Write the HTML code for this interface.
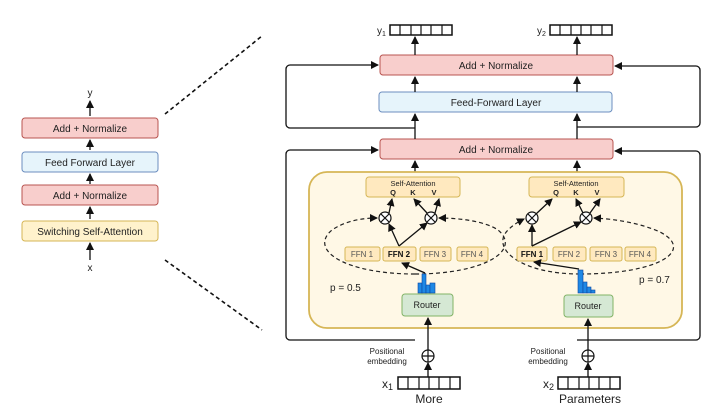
<!DOCTYPE html>
<html><head><meta charset="utf-8"><style>
body{margin:0;background:#fff}
svg{display:block;font-family:"Liberation Sans",sans-serif}
</style></head><body>
<svg width="720" height="415" viewBox="0 0 720 415" xmlns="http://www.w3.org/2000/svg">
<defs>
<marker id="a" markerWidth="8" markerHeight="8" refX="7" refY="4" orient="auto" markerUnits="userSpaceOnUse"><path d="M0,0 L8,4 L0,8 z" fill="#111"/></marker>
</defs>
<g stroke="#111" stroke-width="1.3" fill="none">
<line x1="90" y1="116" x2="90" y2="101" marker-end="url(#a)"/>
<line x1="90" y1="150" x2="90" y2="140" marker-end="url(#a)"/>
<line x1="90" y1="184" x2="90" y2="174" marker-end="url(#a)"/>
<line x1="90" y1="219" x2="90" y2="207" marker-end="url(#a)"/>
<line x1="90" y1="260" x2="90" y2="243" marker-end="url(#a)"/>
<line x1="165" y1="114" x2="262" y2="36" stroke-dasharray="4,3" stroke-width="1.6"/>
<line x1="165" y1="260" x2="262" y2="330" stroke-dasharray="4,3" stroke-width="1.6"/>
<path d="M415,128 H290 a4,4 0 0 1 -4,-4 V69 a4,4 0 0 1 4,-4 H378" marker-end="url(#a)"/>
<path d="M577,127 H696 a4,4 0 0 0 4,-4 V70 a4,4 0 0 0 -4,-4 H615" marker-end="url(#a)"/>
<path d="M415,340 H290 a4,4 0 0 1 -4,-4 V154 a4,4 0 0 1 4,-4 H378" marker-end="url(#a)"/>
<path d="M577,340 H696 a4,4 0 0 0 4,-4 V155 a4,4 0 0 0 -4,-4 H615" marker-end="url(#a)"/>
</g>
<g font-size="10" text-anchor="middle" fill="#222">
<rect x="22" y="118" width="136" height="20" rx="3" fill="#f8cecc" stroke="#b85450"/>
<text x="90" y="132">Add + Normalize</text>
<rect x="22" y="152" width="136" height="20" rx="3" fill="#e6f4fb" stroke="#6c8ebf"/>
<text x="90" y="166">Feed Forward Layer</text>
<rect x="22" y="185" width="136" height="20" rx="3" fill="#f8cecc" stroke="#b85450"/>
<text x="90" y="199">Add + Normalize</text>
<rect x="22" y="221" width="136" height="20" rx="3" fill="#fff2cc" stroke="#d6b656"/>
<text x="90" y="235">Switching Self-Attention</text>
<text x="90" y="96">y</text>
<text x="90" y="271">x</text>
</g>
<g font-size="10" text-anchor="middle" fill="#222">
<rect x="380" y="55" width="233" height="20" rx="3" fill="#f8cecc" stroke="#b85450"/>
<text x="496" y="69">Add + Normalize</text>
<rect x="379" y="92" width="233" height="20" rx="3" fill="#e6f4fb" stroke="#6c8ebf"/>
<text x="496" y="106">Feed-Forward Layer</text>
<rect x="380" y="139" width="233" height="20" rx="3" fill="#f8cecc" stroke="#b85450"/>
<text x="496" y="153">Add + Normalize</text>
</g>
<g stroke="#111" stroke-width="1.3" fill="none">
<line x1="415" y1="55" x2="415" y2="37" marker-end="url(#a)"/>
<line x1="577" y1="55" x2="577" y2="37" marker-end="url(#a)"/>
<line x1="415" y1="139" x2="415" y2="114" marker-end="url(#a)"/>
<line x1="577" y1="139" x2="577" y2="114" marker-end="url(#a)"/>
<line x1="415" y1="92" x2="415" y2="77" marker-end="url(#a)"/>
<line x1="577" y1="92" x2="577" y2="77" marker-end="url(#a)"/>
<line x1="415" y1="177" x2="415" y2="161" marker-end="url(#a)"/>
<line x1="577" y1="177" x2="577" y2="161" marker-end="url(#a)"/>
</g>
<g stroke="#111" stroke-width="1.5" fill="#fff">
<rect x="390" y="25" width="62" height="10"/><rect x="550" y="25" width="62" height="10"/>
<rect x="398" y="377" width="62" height="12"/><rect x="558" y="377" width="62" height="12"/>
</g>
<g stroke="#111" stroke-width="1.2">
<path d="M400,25V35M411,25V35M421,25V35M431,25V35M442,25V35"/>
<path d="M560,25V35M571,25V35M581,25V35M591,25V35M602,25V35"/>
<path d="M408,377V389M419,377V389M429,377V389M439,377V389M450,377V389"/>
<path d="M568,377V389M579,377V389M589,377V389M599,377V389M610,377V389"/>
</g>
<g font-size="10" fill="#222">
<text x="377" y="34">y<tspan font-size="7" dy="2">1</tspan></text>
<text x="537" y="34">y<tspan font-size="7" dy="2">2</tspan></text>
<text x="382" y="388" font-size="12">x<tspan font-size="9" dy="2">1</tspan></text>
<text x="543" y="388" font-size="12">x<tspan font-size="9" dy="2">2</tspan></text>
<text x="429" y="403" font-size="12" text-anchor="middle">More</text>
<text x="590" y="403" font-size="12" text-anchor="middle">Parameters</text>
<text x="387" y="354" font-size="8" text-anchor="middle">Positional</text>
<text x="387" y="364" font-size="8" text-anchor="middle">embedding</text>
<text x="548" y="354" font-size="8" text-anchor="middle">Positional</text>
<text x="548" y="364" font-size="8" text-anchor="middle">embedding</text>
</g>
<rect x="309" y="172" width="373" height="156" rx="18" fill="#fff8e6" stroke="#d6b656" stroke-width="1.8"/>
<g font-size="7.5" text-anchor="middle" fill="#222">
<rect x="366" y="177" width="94" height="20" rx="3" fill="#ffe9bf" stroke="#d6b656"/>
<text x="413" y="186">Self-Attention</text>
<text x="393" y="195" font-weight="bold">Q</text><text x="413" y="195" font-weight="bold">K</text><text x="434" y="195" font-weight="bold">V</text>
<rect x="529" y="177" width="95" height="20" rx="3" fill="#ffe9bf" stroke="#d6b656"/>
<text x="576" y="186">Self-Attention</text>
<text x="556" y="195" font-weight="bold">Q</text><text x="576" y="195" font-weight="bold">K</text><text x="597" y="195" font-weight="bold">V</text>
</g>
<!-- dashed loops -->
<g fill="none" stroke="#222" stroke-width="1.2" stroke-dasharray="4,3">
<path d="M415,274 C345,274 308,250 332,230 C345,221 362,218 377,218" marker-end="url(#a)"/>
<path d="M415,274 C485,274 522,250 498,230 C485,221 458,218 439,218" marker-end="url(#a)"/>
<path d="M580,274 C520,274 490,248 508,230 C513,225 518,222 524,219" marker-end="url(#a)"/>
<path d="M580,274 C660,274 695,250 660,232 C640,223 615,219 594,218" marker-end="url(#a)"/>
</g>
<g font-size="8" text-anchor="middle" fill="#555">
<rect x="345" y="247" width="35" height="14" rx="2" fill="#ffe9bf" stroke="#d6b656"/><text x="362" y="257">FFN 1</text>
<rect x="383" y="247" width="33" height="14" rx="2" fill="#ffe9bf" stroke="#d6b656"/><text x="399" y="257" font-weight="bold" fill="#111">FFN 2</text>
<rect x="420" y="247" width="31" height="14" rx="2" fill="#ffe9bf" stroke="#d6b656"/><text x="435" y="257">FFN 3</text>
<rect x="457" y="247" width="31" height="14" rx="2" fill="#ffe9bf" stroke="#d6b656"/><text x="472" y="257">FFN 4</text>
<rect x="517" y="247" width="30" height="14" rx="2" fill="#ffe9bf" stroke="#d6b656"/><text x="532" y="257" font-weight="bold" fill="#111">FFN 1</text>
<rect x="553" y="247" width="33" height="14" rx="2" fill="#ffe9bf" stroke="#d6b656"/><text x="569" y="257">FFN 2</text>
<rect x="590" y="247" width="32" height="14" rx="2" fill="#ffe9bf" stroke="#d6b656"/><text x="606" y="257">FFN 3</text>
<rect x="625" y="247" width="31" height="14" rx="2" fill="#ffe9bf" stroke="#d6b656"/><text x="640" y="257">FFN 4</text>
</g>
<g font-size="9" text-anchor="middle" fill="#222">
<rect x="402" y="294" width="51" height="22" rx="3" fill="#d5e8d4" stroke="#82b366"/><text x="427" y="308">Router</text>
<rect x="564" y="295" width="49" height="22" rx="3" fill="#d5e8d4" stroke="#82b366"/><text x="588" y="309">Router</text>
<text x="330" y="291" font-size="10" text-anchor="start">p = 0.5</text>
<text x="639" y="283" font-size="10" text-anchor="start">p = 0.7</text>
</g>
<g fill="#1e88e5" stroke="#0d47a1" stroke-width="0.6">
<rect x="418" y="283" width="4" height="10"/><rect x="422" y="274" width="4" height="19"/><rect x="426" y="285" width="4" height="8"/><rect x="430" y="283" width="5" height="10"/>
<rect x="578" y="270" width="5" height="23"/><rect x="583" y="282" width="4" height="11"/><rect x="587" y="287" width="4" height="6"/><rect x="591" y="290" width="4" height="3"/>
</g>
<g stroke="#111" stroke-width="1.2" fill="#fff">
<circle cx="385" cy="218" r="6"/><path d="M381,214L389,222M389,214L381,222"/>
<circle cx="431" cy="218" r="6"/><path d="M427,214L435,222M435,214L427,222"/>
<circle cx="532" cy="218" r="6"/><path d="M528,214L536,222M536,214L528,222"/>
<circle cx="586" cy="218" r="6"/><path d="M582,214L590,222M590,214L582,222"/>
<circle cx="428" cy="356" r="6"/><path d="M422,356H434M428,350V362"/>
<circle cx="588" cy="356" r="6"/><path d="M582,356H594M588,350V362"/>
</g>
<g stroke="#111" stroke-width="1.3" fill="none">
<line x1="389" y1="213" x2="392" y2="199" marker-end="url(#a)"/>
<line x1="427" y1="213" x2="414" y2="199" marker-end="url(#a)"/>
<line x1="435" y1="213" x2="439" y2="199" marker-end="url(#a)"/>
<line x1="399" y1="246" x2="389" y2="224" marker-end="url(#a)"/>
<line x1="399" y1="246" x2="427" y2="223" marker-end="url(#a)"/>
<line x1="536" y1="214" x2="552" y2="199" marker-end="url(#a)"/>
<line x1="583" y1="213" x2="576" y2="199" marker-end="url(#a)"/>
<line x1="590" y1="213" x2="600" y2="199" marker-end="url(#a)"/>
<line x1="532" y1="246" x2="532" y2="225" marker-end="url(#a)"/>
<line x1="532" y1="246" x2="581" y2="222" marker-end="url(#a)"/>
<line x1="425" y1="273" x2="402" y2="263" marker-end="url(#a)"/>
<line x1="579" y1="269" x2="534" y2="262" marker-end="url(#a)"/>
<line x1="428" y1="350" x2="428" y2="318" marker-end="url(#a)"/>
<line x1="588" y1="350" x2="588" y2="319" marker-end="url(#a)"/>
<line x1="428" y1="377" x2="428" y2="363" marker-end="url(#a)"/>
<line x1="588" y1="377" x2="588" y2="363" marker-end="url(#a)"/>
</g>
</svg>
</body></html>
